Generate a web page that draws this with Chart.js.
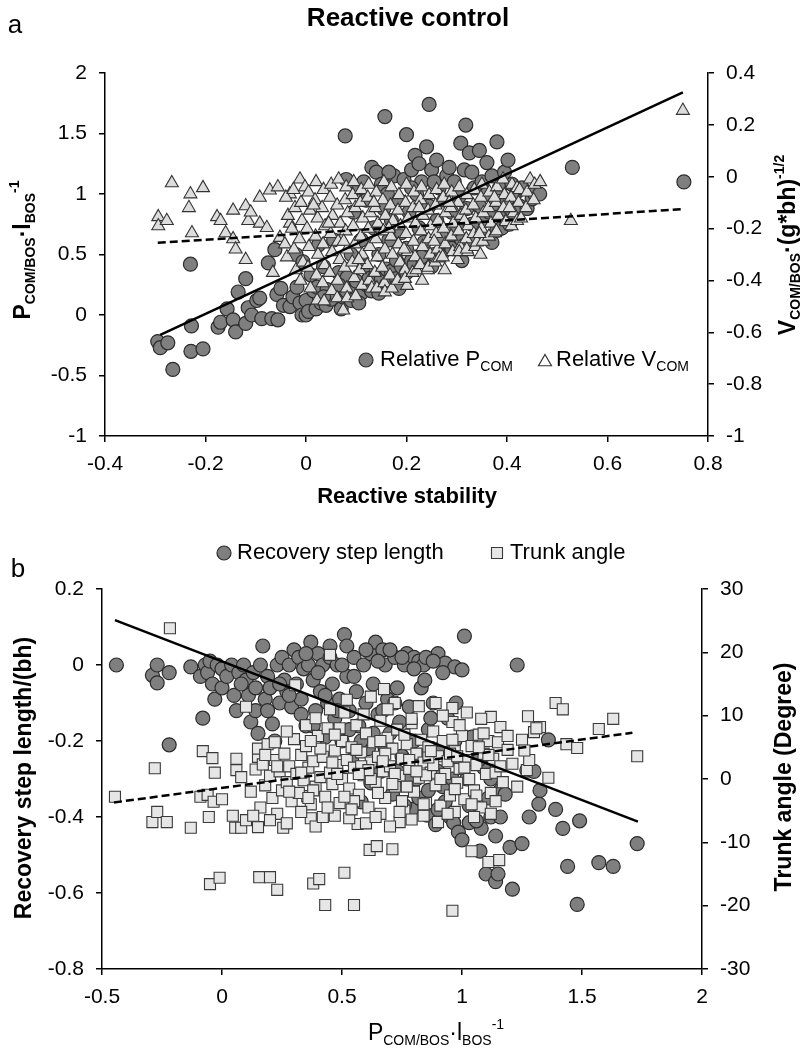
<!DOCTYPE html>
<html>
<head>
<meta charset="utf-8">
<script src="https://cdn.jsdelivr.net/npm/chart.js@4.4.0/dist/chart.umd.min.js"></script>
<style>
  body { margin: 0; background: #fff; }
  #wrap { position: relative; width: 810px; height: 1050px; }
  #boxA { position: absolute; left: 0; top: 0; width: 810px; height: 520px; }
  #boxB { position: absolute; left: 0; top: 520px; width: 810px; height: 530px; }
</style>
</head>
<body>
<div id="wrap">
  <div id="boxA"><canvas id="chartA" width="810" height="520"></canvas></div>
  <div id="boxB"><canvas id="chartB" width="810" height="530"></canvas></div>
</div>
<script>
// ---- Panel a: Reactive control ----
// Relative P_COM (left axis) : [reactive stability, P_COM/BOS * l_BOS^-1]
const aPcomPts = [
  [-0.295,-0.22],[-0.29,-0.27],[-0.275,-0.23],[-0.265,-0.45],[-0.23,0.42],[-0.228,-0.09],[-0.229,-0.30],
  [-0.205,-0.28],[-0.175,-0.10],[-0.17,-0.06],[-0.157,0.05],[-0.145,-0.04],[-0.14,-0.14],[-0.135,0.19],
  [-0.12,-0.07],[-0.12,0.30],[-0.115,0.06],[-0.108,0.0],[-0.098,0.12],[-0.092,0.14],[-0.088,-0.03],
  [-0.075,0.43],[-0.068,-0.03],[-0.062,0.54],[-0.058,0.17],[-0.056,-0.04],[-0.05,0.22],[-0.045,0.08],
  [-0.032,0.07],[-0.026,0.15],[-0.02,0.5],[-0.018,0.23],[-0.012,0.10],[-0.008,0.0],[0.0,0.12],[-0.006,0.44],
  [0.0,0.0],[0.005,0.03],[0.01,0.33],[0.015,0.2],[0.02,0.05],[0.022,0.23],[0.025,0.58],[0.03,0.1],
  [0.035,0.4],[0.04,0.08],[0.042,0.21],[0.05,0.13],[0.055,0.62],[0.06,0.17],[0.062,0.23],[0.065,0.35],
  [0.07,0.05],[0.074,0.15],[0.078,1.48],[0.08,1.12],[0.08,0.2],[0.082,0.31],[0.09,0.12],[0.09,0.5],
  [0.095,0.85],[0.1,0.22],[0.1,0.28],[0.105,1.05],[0.11,0.18],[0.11,0.62],[0.115,0.4],[0.12,0.25],
  [0.12,0.95],[0.125,0.3],[0.13,0.2],[0.131,1.22],[0.135,0.72],[0.14,0.33],[0.14,1.18],[0.145,0.5],
  [0.15,0.3],[0.15,1.08],[0.155,0.88],[0.157,1.64],[0.16,0.25],[0.16,0.38],[0.162,1.0],[0.165,0.62],
  [0.17,0.36],[0.17,0.78],[0.175,1.15],[0.18,0.3],[0.18,0.45],[0.185,0.95],[0.19,0.4],[0.19,0.68],
  [0.195,1.12],[0.2,1.49],[0.2,0.35],[0.2,0.55],[0.205,0.85],[0.21,0.45],[0.21,1.2],[0.215,0.42],
  [0.217,1.32],[0.22,1.0],[0.225,0.72],[0.23,0.48],[0.23,1.1],[0.235,0.6],[0.24,1.39],[0.245,1.74],
  [0.245,0.9],[0.25,0.4],[0.25,1.2],[0.255,0.5],[0.26,1.28],[0.26,0.78],[0.265,1.05],[0.27,0.5],
  [0.27,0.65],[0.275,0.95],[0.28,1.15],[0.285,0.58],[0.29,0.55],[0.29,0.85],[0.295,1.1],[0.3,0.72],
  [0.305,0.98],[0.308,1.42],[0.31,0.45],[0.31,0.62],[0.315,1.2],[0.318,1.57],[0.32,0.88],[0.325,1.34],
  [0.33,0.6],[0.33,0.75],[0.335,1.05],[0.345,1.36],[0.345,0.9],[0.35,0.65],[0.35,1.1],[0.355,0.78],
  [0.36,1.0],[0.365,0.85],[0.37,0.6],[0.37,1.15],[0.375,0.92],[0.38,1.43],[0.38,0.7],[0.385,1.05],
  [0.39,0.72],[0.39,0.82],[0.395,1.18],[0.4,0.95],[0.402,1.28],[0.405,0.75],[0.41,0.85],[0.41,1.08],
  [0.42,1.02],[0.425,0.9],[0.43,1.05],[0.44,0.88],[0.45,0.96],[0.455,1.0],[0.465,1.0],[0.53,1.22],[0.752,1.1],
  [0.115,1.1],[0.165,1.18],[0.225,1.25],[0.285,1.22],[0.33,1.18],[0.36,1.26],[0.21,1.05],[0.255,1.1],
  [0.035,0.15],[0.065,0.25],[0.105,0.1],[0.145,0.18],[0.185,0.22]
];
// Relative V_COM (right axis) : [reactive stability, V_COM/BOS * (g*bh)^-1/2]
const aVcomPts = [
  [-0.294,-0.155],[-0.294,-0.19],[-0.277,-0.17],[-0.267,-0.024],[-0.23,-0.067],[-0.233,-0.12],[-0.227,-0.217],
  [-0.205,-0.043],[-0.177,-0.155],[-0.17,-0.17],[-0.16,-0.217],[-0.145,-0.13],[-0.145,-0.24],[-0.14,-0.28],
  [-0.12,-0.32],[-0.12,-0.113],[-0.115,-0.17],[-0.11,-0.137],[-0.092,-0.08],[-0.092,-0.18],[-0.078,-0.197],
  [-0.072,-0.052],[-0.066,-0.37],[-0.056,-0.04],[-0.052,-0.235],[-0.032,-0.067],[-0.032,-0.18],[-0.012,-0.01],
  [-0.002,-0.04],[-0.04,-0.08],[-0.036,-0.15],[-0.042,-0.26],[-0.038,-0.31],[-0.025,-0.05],[-0.022,-0.12],
  [-0.028,-0.2],[-0.024,-0.28],[-0.02,-0.36],[-0.01,-0.1],[-0.008,-0.17],[-0.013,-0.24],[-0.006,-0.33],
  [-0.011,-0.4],[0.005,-0.06],[0.008,-0.13],[0.002,-0.2],[0.006,-0.27],[0.004,-0.35],[0.009,-0.43],
  [0.02,-0.02],[0.018,-0.09],[0.023,-0.16],[0.019,-0.23],[0.024,-0.3],[0.021,-0.38],[0.022,-0.477],
  [0.035,-0.05],[0.032,-0.12],[0.038,-0.19],[0.034,-0.26],[0.037,-0.34],[0.033,-0.41],[0.036,-0.48],
  [0.05,-0.03],[0.048,-0.08],[0.053,-0.15],[0.049,-0.22],[0.052,-0.29],[0.047,-0.37],[0.051,-0.44],
  [0.065,-0.01],[0.062,-0.11],[0.068,-0.18],[0.064,-0.25],[0.067,-0.32],[0.063,-0.4],[0.062,-0.468],
  [0.08,-0.04],[0.078,-0.09],[0.083,-0.14],[0.079,-0.21],[0.082,-0.28],[0.077,-0.35],[0.081,-0.43],
  [0.074,-0.515],[0.082,-0.468],[0.095,-0.02],[0.093,-0.07],[0.098,-0.12],[0.094,-0.19],[0.097,-0.26],
  [0.092,-0.33],[0.096,-0.39],[0.099,-0.46],[0.11,-0.05],[0.108,-0.1],[0.113,-0.16],[0.109,-0.23],
  [0.112,-0.3],[0.107,-0.36],[0.111,-0.42],[0.125,-0.03],[0.123,-0.08],[0.128,-0.14],[0.124,-0.2],
  [0.127,-0.27],[0.122,-0.34],[0.126,-0.4],[0.131,-0.43],[0.14,-0.06],[0.138,-0.12],[0.143,-0.18],
  [0.139,-0.24],[0.142,-0.31],[0.137,-0.37],[0.141,-0.43],[0.155,-0.02],[0.153,-0.09],[0.158,-0.15],
  [0.154,-0.21],[0.157,-0.28],[0.152,-0.35],[0.156,-0.41],[0.157,-0.445],[0.17,-0.04],[0.168,-0.11],
  [0.173,-0.17],[0.169,-0.23],[0.172,-0.3],[0.167,-0.38],[0.171,-0.43],[0.185,-0.07],[0.183,-0.13],
  [0.188,-0.19],[0.184,-0.26],[0.187,-0.33],[0.182,-0.4],[0.2,-0.03],[0.198,-0.1],[0.203,-0.16],
  [0.199,-0.22],[0.202,-0.29],[0.197,-0.36],[0.201,-0.42],[0.197,-0.393],[0.215,-0.06],[0.213,-0.12],
  [0.218,-0.18],[0.214,-0.25],[0.217,-0.31],[0.212,-0.37],[0.22,-0.36],[0.23,-0.04],[0.228,-0.09],
  [0.233,-0.15],[0.229,-0.21],[0.232,-0.27],[0.227,-0.34],[0.231,-0.4],[0.245,-0.07],[0.243,-0.13],
  [0.248,-0.19],[0.244,-0.24],[0.247,-0.3],[0.242,-0.36],[0.243,-0.35],[0.26,-0.05],[0.258,-0.11],
  [0.263,-0.17],[0.259,-0.22],[0.262,-0.28],[0.257,-0.33],[0.265,-0.314],[0.275,-0.03],[0.273,-0.08],
  [0.278,-0.14],[0.274,-0.2],[0.277,-0.26],[0.272,-0.31],[0.276,-0.36],[0.29,-0.06],[0.288,-0.12],
  [0.293,-0.18],[0.289,-0.23],[0.292,-0.29],[0.305,-0.04],[0.303,-0.1],[0.308,-0.15],[0.304,-0.21],
  [0.307,-0.27],[0.302,-0.32],[0.305,-0.29],[0.32,-0.07],[0.318,-0.13],[0.323,-0.19],[0.319,-0.24],
  [0.322,-0.29],[0.32,-0.28],[0.335,-0.05],[0.333,-0.11],[0.338,-0.16],[0.334,-0.22],[0.337,-0.27],
  [0.34,-0.253],[0.35,-0.03],[0.348,-0.08],[0.353,-0.14],[0.349,-0.2],[0.352,-0.25],[0.347,-0.3],
  [0.365,-0.06],[0.363,-0.12],[0.368,-0.18],[0.364,-0.23],[0.376,-0.217],[0.38,-0.04],[0.378,-0.1],
  [0.383,-0.15],[0.379,-0.21],[0.392,-0.01],[0.395,-0.07],[0.393,-0.12],[0.398,-0.17],[0.398,-0.174],
  [0.41,-0.03],[0.408,-0.08],[0.413,-0.14],[0.409,-0.19],[0.42,-0.043],[0.42,-0.17],[0.425,-0.05],
  [0.423,-0.1],[0.428,-0.16],[0.44,-0.06],[0.438,-0.12],[0.446,-0.01],[0.455,-0.03],[0.453,-0.09],
  [0.466,-0.02],[0.527,-0.17],[0.75,0.255],
  [0.015,-0.11],[0.045,-0.18],[0.075,-0.25],[0.105,-0.32],[0.135,-0.1],[0.165,-0.2],[0.195,-0.28],
  [0.225,-0.12],[0.255,-0.25],[0.285,-0.1],[0.315,-0.17],[0.345,-0.22],[0.375,-0.08],[0.405,-0.12]
];
// Linear fits
const aFitPcom = [[-0.29,-0.165],[0.75,1.84]];
const aFitVcom = [[-0.295,-0.255],[0.75,-0.125]];

// ---- Panel b ----
// Recovery step length (left axis) : [P_COM/BOS * l_BOS^-1, step length/(bh)]
const bStepPts = [
  [-0.44,0.0],[-0.29,-0.027],[-0.27,-0.047],[-0.27,0.0],[-0.22,-0.02],[-0.22,-0.21],[-0.13,-0.005],
  [-0.09,-0.03],[-0.08,-0.14],[-0.07,0.0],[-0.06,-0.02],[-0.05,0.01],[-0.04,-0.05],[-0.03,-0.09],
  [-0.02,0.0],[0.0,-0.06],[0.0,-0.01],[0.02,-0.03],[0.04,0.0],[0.05,-0.08],[0.06,-0.12],[0.07,-0.02],
  [0.09,0.0],[0.1,-0.04],[0.11,-0.08],[0.12,-0.15],[0.13,-0.02],[0.14,-0.12],[0.15,-0.18],[0.16,0.0],
  [0.17,0.05],[0.18,-0.09],[0.19,-0.03],[0.2,-0.06],[0.21,-0.155],[0.22,-0.2],[0.23,0.0],[0.24,-0.1],
  [0.25,0.02],[0.26,-0.04],[0.27,-0.07],[0.28,0.0],[0.29,-0.11],[0.3,0.04],[0.31,-0.05],[0.32,0.02],
  [0.33,-0.09],[0.34,-0.01],[0.35,-0.16],[0.36,0.0],[0.37,0.06],[0.38,-0.04],[0.39,-0.12],[0.4,0.03],
  [0.41,-0.07],[0.42,0.0],[0.43,-0.19],[0.44,-0.1],[0.45,0.02],[0.46,-0.05],[0.47,-0.14],[0.48,0.0],
  [0.49,-0.09],[0.5,-0.2],[0.51,0.08],[0.52,0.05],[0.52,-0.03],[0.53,-0.12],[0.54,-0.25],[0.55,0.02],
  [0.56,-0.07],[0.57,-0.16],[0.58,-0.36],[0.59,0.0],[0.6,-0.1],[0.61,-0.22],[0.62,0.03],[0.63,-0.05],
  [0.64,0.06],[0.65,-0.13],[0.66,-0.28],[0.67,0.04],[0.68,0.0],[0.69,-0.09],[0.7,-0.18],[0.71,-0.34],
  [0.72,0.02],[0.73,-0.06],[0.74,-0.15],[0.75,-0.24],[0.76,0.0],[0.77,0.03],[0.78,-0.11],[0.79,-0.38],
  [0.8,0.02],[0.8,-0.2],[0.81,-0.3],[0.82,0.01],[0.83,-0.06],[0.84,0.0],[0.845,-0.04],[0.855,-0.395],
  [0.86,-0.17],[0.87,-0.26],[0.88,-0.1],[0.89,-0.42],[0.9,0.03],[0.9,-0.38],[0.91,-0.22],[0.92,-0.32],
  [0.93,0.005],[0.94,-0.14],[0.95,-0.4],[0.965,-0.415],[0.97,-0.005],[0.975,-0.1],[0.985,-0.44],
  [0.99,-0.25],[1.0,-0.013],[1.0,-0.46],[1.01,0.076],[1.02,-0.3],[1.03,-0.415],[1.04,-0.19],[1.05,-0.35],
  [1.075,-0.49],[1.08,-0.43],[1.09,-0.27],[1.1,-0.55],[1.12,-0.30],[1.12,-0.40],[1.14,-0.45],[1.14,-0.57],
  [1.15,-0.55],[1.16,-0.33],[1.16,-0.40],[1.18,-0.34],[1.2,-0.48],[1.21,-0.59],[1.23,0.0],[1.25,-0.47],
  [1.27,-0.277],[1.28,-0.40],[1.30,-0.28],[1.32,-0.366],[1.325,-0.33],[1.36,-0.197],[1.39,-0.38],
  [1.42,-0.43],[1.44,-0.53],[1.48,-0.63],[1.49,-0.41],[1.57,-0.52],[1.63,-0.53],[1.73,-0.47],
  [0.35,0.03],[0.4,-0.02],[0.45,0.05],[0.5,0.0],[0.55,-0.03],[0.6,0.04],[0.65,0.01],[0.7,0.04],
  [0.75,0.02],[0.8,-0.01],[0.85,0.02],[0.88,0.01],[0.92,-0.02],[0.63,-0.18],[0.68,-0.22],[0.73,-0.28],
  [0.77,-0.3],[0.82,-0.35],[0.86,-0.33],[0.93,-0.36],[0.96,-0.3],[1.03,-0.37],[1.06,-0.41],[0.58,-0.2],
  [0.53,-0.17],[0.48,-0.12],[0.43,-0.08],[0.38,-0.16],[0.33,-0.13],[0.28,-0.08],[0.24,-0.05],[0.19,-0.12],
  [0.14,-0.06],[0.08,-0.05],[0.67,-0.12],[0.72,-0.1],[0.87,-0.14],[0.97,-0.2],[1.07,-0.25],[1.11,-0.35],
  [0.62,-0.31],[0.76,-0.37],[0.83,-0.24],[0.9,-0.28]
];
// Trunk angle (right axis, degree)
const bTrunkPts = [
  [-0.217,23.8],[-0.446,-2.8],[-0.28,1.7],[-0.29,-6.8],[-0.27,-5.2],[-0.23,-6.8],[-0.13,-7.7],[-0.08,4.4],
  [-0.055,-6.0],[-0.04,3.3],[-0.03,1.0],[-0.09,-2.8],[-0.06,-2.5],[-0.035,-3.6],[0.0,-3.2],[-0.05,-16.6],
  [-0.01,-15.6],[0.06,3.2],[0.06,1.4],[0.08,0.3],[0.045,-5.8],[0.055,-7.7],[0.08,-7.7],[0.10,11.4],
  [0.15,3.5],[0.15,-7.6],[0.155,-15.5],[0.2,-15.5],[0.23,-17.5],[0.255,-7.7],[0.305,14.8],[0.355,-2.7],
  [0.37,-6.2],[0.39,-7.5],[0.38,-16.5],[0.405,-15.8],[0.43,-19.9],[0.45,19.6],[0.51,-14.8],[0.55,-19.9],
  [0.565,-7.1],[0.615,-11.2],[0.645,-10.6],[0.71,-11.1],[0.74,-6.8],[0.675,14.2],[0.96,-20.8],[1.04,-11.4],
  [1.11,-13.1],[1.155,-12.8],[1.39,12.0],[1.42,11.0],[1.275,9.9],[1.325,8.2],[1.30,7.4],[1.435,5.5],
  [1.48,4.9],[1.57,7.9],[1.63,9.5],[1.73,3.6],[1.36,0.2],[1.27,1.4],[1.12,9.8],[1.16,8.2],[0.96,11.2],
  [0.12,-2.0],[0.14,1.5],[0.15,4.8],[0.16,-4.5],[0.17,2.3],[0.18,-1.0],[0.19,5.5],[0.2,0.5],[0.21,-3.0],
  [0.22,3.0],[0.23,-5.5],[0.24,1.2],[0.25,-1.8],[0.26,4.0],[0.27,-0.5],[0.28,2.0],[0.29,-3.5],[0.3,6.3],
  [0.31,0.8],[0.32,-2.2],[0.33,3.8],[0.34,-0.2],[0.35,5.2],[0.36,1.8],[0.37,-4.0],[0.38,2.8],[0.39,-1.2],
  [0.4,6.8],[0.41,0.3],[0.42,3.5],[0.43,-2.8],[0.44,8.0],[0.45,1.0],[0.46,-0.8],[0.47,4.5],[0.48,2.2],
  [0.49,-3.8],[0.5,6.0],[0.5,0.0],[0.51,10.5],[0.52,3.0],[0.53,-1.5],[0.54,5.0],[0.55,1.8],[0.56,8.5],
  [0.57,-2.5],[0.58,4.2],[0.59,0.6],[0.6,7.2],[0.61,-4.5],[0.62,2.6],[0.63,5.8],[0.64,-0.5],[0.65,3.5],
  [0.66,9.2],[0.67,1.2],[0.68,-3.0],[0.69,6.5],[0.7,2.0],[0.71,4.8],[0.72,-1.2],[0.73,7.8],[0.74,0.5],
  [0.75,3.2],[0.76,-5.0],[0.77,5.5],[0.78,1.6],[0.79,8.8],[0.8,-2.0],[0.81,4.0],[0.82,0.2],[0.83,6.2],
  [0.84,2.6],[0.85,-3.8],[0.86,5.0],[0.87,1.0],[0.88,7.5],[0.89,-1.0],[0.9,3.6],[0.91,-4.2],[0.92,6.0],
  [0.93,0.8],[0.94,2.8],[0.95,-2.6],[0.96,9.0],[0.97,4.4],[0.98,-0.6],[0.99,1.6],[1.0,6.8],[1.01,-3.2],
  [1.02,3.0],[1.03,0.0],[1.04,5.2],[1.05,-1.8],[1.06,2.2],[1.07,7.0],[1.08,-4.5],[1.09,4.0],[1.1,0.8],
  [1.11,6.0],[1.12,-2.2],[1.13,3.2],[1.14,1.0],[1.15,5.8],[1.17,-0.5],[1.19,4.6],[1.21,2.4],[1.23,-1.2],
  [1.25,6.2],[1.28,3.0],[1.31,8.0],[0.1,-6.5],[0.13,-5.8],[0.2,-6.5],[0.27,-7.0],[0.33,-5.2],[0.42,-6.0],
  [0.47,-5.8],[0.53,-6.2],[0.6,-7.0],[0.66,-5.5],[0.7,-7.5],[0.79,-6.4],[0.84,-5.8],[0.9,-6.8],[0.97,-5.2],
  [1.05,-6.0],[1.12,-5.5],[0.35,8.5],[0.45,11.0],[0.52,12.5],[0.62,13.0],[0.72,12.0],[0.82,11.5],[0.92,10.0],
  [1.02,10.5],[1.08,9.5],[0.55,-3.5],[0.65,-2.2],[0.75,-3.5],[0.85,0.6],[0.95,4.0],[0.62,0.0],[0.72,0.8],
  [0.58,2.0],[0.68,4.0],[0.78,3.0],[0.88,2.2],[0.98,3.6],[0.33,1.0],[0.23,2.0],[0.18,3.8],[0.28,-2.0],
  [0.38,-1.8],[0.48,0.8],
  [0.36,-3.0],[0.41,4.8],[0.46,2.6],[0.51,-2.8],[0.56,4.6],[0.61,1.4],[0.66,6.0],[0.71,-0.8],[0.76,7.0],
  [0.81,1.2],[0.86,3.4],[0.91,0.0],[0.96,6.2],[1.01,1.8],[1.06,-2.6],[1.11,3.8],[1.16,2.0],[0.44,-4.5],
  [0.54,-4.8],[0.64,-6.0],[0.74,-5.2],[0.84,-4.0],[0.94,-5.5],[1.04,-4.0],[1.14,-3.5],[0.39,9.6],[0.49,8.0],
  [0.59,10.2],[0.69,11.0],[0.79,9.5],[0.89,12.0],[0.99,8.5],[1.09,7.2],[1.19,6.8],[1.26,4.5],[0.57,0.8],
  [0.67,2.8],[0.77,-1.2],[0.87,4.4],[0.97,-1.6],[1.07,5.0],[0.47,7.0],[0.37,6.0],[0.27,7.5],[0.22,5.8]
];
const bFitStep = [[-0.446,0.118],[1.733,-0.412]];
const bFitTrunk = [[-0.45,-3.7],[1.71,7.3]];

const FONT = "'Liberation Sans', Arial, sans-serif";
Chart.defaults.font.family = FONT;
Chart.defaults.color = '#000';

const toXY = pts => pts.map(([x, y]) => ({ x: x, y: y }));

// draws a string made of normal / sub / sup pieces, centred (or left aligned) at x,y
function drawRich(ctx, parts, x, y, opts) {
  const size = opts.size, bold = opts.bold ? 'bold ' : '';
  const small = Math.round(size * 0.62);
  const fontOf = p => bold + (p[1] ? small : size) + 'px ' + FONT;
  ctx.save();
  ctx.translate(x, y);
  if (opts.rotate) ctx.rotate(opts.rotate);
  let w = 0;
  parts.forEach(p => { ctx.font = fontOf(p); w += ctx.measureText(p[0]).width; });
  let cx = opts.align === 'left' ? 0 : -w / 2;
  ctx.fillStyle = '#000';
  ctx.textBaseline = 'middle';
  ctx.textAlign = 'left';
  parts.forEach(p => {
    ctx.font = fontOf(p);
    const dy = p[1] === 'sub' ? size * 0.32 : p[1] === 'sup' ? -size * 0.38 : 0;
    ctx.fillText(p[0], cx, dy);
    cx += ctx.measureText(p[0]).width;
  });
  ctx.restore();
}

// legend marker drawn with the library's own point routine
function marker(ctx, style, fill, stroke, lw, x, y) {
  ctx.save();
  ctx.fillStyle = fill; ctx.strokeStyle = stroke; ctx.lineWidth = lw;
  Chart.helpers.drawPoint(ctx, { pointStyle: style.pointStyle, radius: style.pointRadius, borderWidth: lw, rotation: 0 }, x, y);
  ctx.restore();
}

function yAxis(pos, min, max, step, width, fmt) {
  return {
    type: 'linear', position: pos, min: min, max: max,
    afterFit: s => { s.width = width; },
    grid: { drawOnChartArea: false, drawTicks: true, tickLength: 6, color: '#000', lineWidth: 1.5 },
    border: { display: true, color: '#000', width: 1.5 },
    ticks: { stepSize: step, padding: 12, font: { size: 21 }, color: '#000', autoSkip: false, callback: fmt }
  };
}
function xAxis(min, max, step, height) {
  return {
    type: 'linear', position: 'bottom', min: min, max: max,
    afterFit: s => { s.height = height; },
    grid: { drawOnChartArea: false, drawTicks: true, tickLength: 6, color: '#000', lineWidth: 1.5 },
    border: { display: true, color: '#000', width: 1.5 },
    ticks: { stepSize: step, padding: 10, font: { size: 21 }, color: '#000', autoSkip: false, maxRotation: 0,
      callback: v => String(Math.round(v * 10) / 10) }
  };
}
const oneDec = v => String(Math.round(v * 10) / 10);

// ---------- chart a ----------
const aCircleDs = { label: 'Relative PCOM', data: toXY(aPcomPts), yAxisID: 'yL', order: 3,
  pointStyle: 'circle', pointRadius: 7, pointBackgroundColor: '#7f7f7f', pointBorderColor: '#2b2b2b',
  pointBorderWidth: 1.2 };
const aTriDs = { label: 'Relative VCOM', data: toXY(aVcomPts), yAxisID: 'yR', order: 2,
  pointStyle: 'triangle', pointRadius: 7.5, pointBackgroundColor: '#dcdcdc', pointBorderColor: '#333',
  pointBorderWidth: 1.1 };

new Chart(document.getElementById('chartA'), {
  type: 'scatter',
  data: {
    datasets: [
      { label: 'fitP', data: toXY(aFitPcom), yAxisID: 'yL', showLine: true, pointRadius: 0,
        borderColor: '#000', borderWidth: 2.5, order: 0 },
      { label: 'fitV', data: toXY(aFitVcom), yAxisID: 'yR', showLine: true, pointRadius: 0,
        borderColor: '#000', borderWidth: 2.5, borderDash: [8, 4], order: 1 },
      aTriDs, aCircleDs
    ]
  },
  options: {
    responsive: false, animation: false,
    layout: { padding: { top: 73, left: 0, right: 0, bottom: 0 } },
    plugins: { legend: { display: false }, tooltip: { enabled: false } },
    scales: {
      x: xAxis(-0.4, 0.8, 0.2, 84),
      yL: yAxis('left', -1, 2, 0.5, 105, oneDec),
      yR: yAxis('right', -1, 0.4, 0.2, 102, oneDec)
    }
  },
  plugins: [{
    id: 'textA',
    afterDraw(chart) {
      const ctx = chart.ctx;
      drawRich(ctx, [['a']], 15, 26, { size: 26 });
      drawRich(ctx, [['Reactive control']], 408, 19, { size: 26, bold: true });
      drawRich(ctx, [['Reactive stability']], 407, 497, { size: 22, bold: true });
      drawRich(ctx, [['P'], ['COM/BOS', 'sub'], ['·l'], ['BOS', 'sub'], ['-1', 'sup']], 24, 250,
        { size: 23, bold: true, rotate: -Math.PI / 2 });
      drawRich(ctx, [['V'], ['COM/BOS', 'sub'], ['·(g*bh)'], ['-1/2', 'sup']], 789, 245,
        { size: 23, bold: true, rotate: -Math.PI / 2 });
      // legend inside the plot area
      marker(ctx, aCircleDs, '#7f7f7f', '#2b2b2b', 1.2, 366, 360);
      marker(ctx, aTriDs, '#ffffff', '#333', 1.2, 545, 362);
      drawRich(ctx, [['Relative P'], ['COM', 'sub']], 380, 360, { size: 22, align: 'left' });
      drawRich(ctx, [['Relative V'], ['COM', 'sub']], 556, 360, { size: 22, align: 'left' });
    }
  }]
});

// ---------- chart b ----------
const bCircleDs = { label: 'Recovery step length', data: toXY(bStepPts), yAxisID: 'yL', order: 3,
  pointStyle: 'circle', pointRadius: 7, pointBackgroundColor: '#7f7f7f', pointBorderColor: '#2b2b2b',
  pointBorderWidth: 1.2 };
const bSquareDs = { label: 'Trunk angle', data: toXY(bTrunkPts), yAxisID: 'yR', order: 2,
  pointStyle: 'rect', pointRadius: 7.8, pointBackgroundColor: '#e6e6e6', pointBorderColor: '#3a3a3a',
  pointBorderWidth: 1.1 };

new Chart(document.getElementById('chartB'), {
  type: 'scatter',
  data: {
    datasets: [
      { label: 'fitStep', data: toXY(bFitStep), yAxisID: 'yL', showLine: true, pointRadius: 0,
        borderColor: '#000', borderWidth: 2.5, order: 0 },
      { label: 'fitTrunk', data: toXY(bFitTrunk), yAxisID: 'yR', showLine: true, pointRadius: 0,
        borderColor: '#000', borderWidth: 2.5, borderDash: [8, 4], order: 1 },
      bSquareDs, bCircleDs
    ]
  },
  options: {
    responsive: false, animation: false,
    layout: { padding: { top: 69, left: 0, right: 0, bottom: 0 } },
    plugins: { legend: { display: false }, tooltip: { enabled: false } },
    scales: {
      x: xAxis(-0.5, 2, 0.5, 81),
      yL: yAxis('left', -0.8, 0.2, 0.2, 102, oneDec),
      yR: yAxis('right', -30, 30, 10, 108, v => String(Math.round(v)))
    }
  },
  plugins: [{
    id: 'textB',
    afterDraw(chart) {
      const ctx = chart.ctx;
      drawRich(ctx, [['b']], 18, 50, { size: 26 });
      marker(ctx, bCircleDs, '#7f7f7f', '#2b2b2b', 1.2, 224, 33);
      marker(ctx, bSquareDs, '#e6e6e6', '#3a3a3a', 1.1, 497, 33);
      drawRich(ctx, [['Recovery step length']], 237, 33, { size: 22, align: 'left' });
      drawRich(ctx, [['Trunk angle']], 510, 33, { size: 22, align: 'left' });
      drawRich(ctx, [['Recovery step length/(bh)']], 25, 258, { size: 23, bold: true, rotate: -Math.PI / 2 });
      drawRich(ctx, [['Trunk angle (Degree)']], 785, 257, { size: 23, bold: true, rotate: -Math.PI / 2 });
      drawRich(ctx, [['P'], ['COM/BOS', 'sub'], ['·l'], ['BOS', 'sub'], ['-1', 'sup']], 436, 514,
        { size: 23 });
    }
  }]
});
</script>
</body>
</html>
